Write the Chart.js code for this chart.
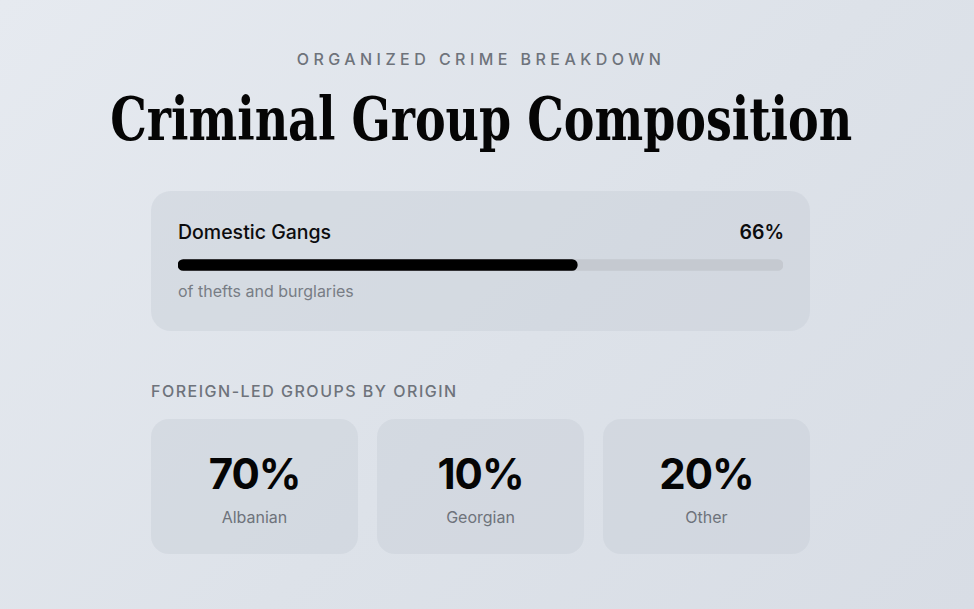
<!DOCTYPE html>
<html>
<head>
<meta charset="utf-8">
<script src="https://cdn.jsdelivr.net/npm/chart.js@4"></script>
<style>
  html, body { margin: 0; padding: 0; }
  body {
    width: 974px; height: 609px; overflow: hidden; position: relative;
    background: linear-gradient(135deg, #e6eaf0 0%, #dde2e9 55%, #d8dde5 100%);
    font-family: Inter, "Noto Sans", sans-serif;
  }
  .eyebrow {
    position: absolute; left: 0; width: 962px; top: 49px; text-align: center;
    font-size: 16px; letter-spacing: 4.45px; color: #6e737b; font-weight: 500;
  }
  .titleWrap { position: absolute; left: 0; width: 962px; top: 80px; text-align: center; }
  .title {
    display: inline-block; transform-origin: 50% 50%;
    font-family: "DejaVu Serif", "Liberation Serif", serif; font-stretch: condensed; font-weight: 700;
    font-size: 59px; line-height: 80px; color: #050505; white-space: nowrap;
  }
  .card {
    position: absolute; background: rgba(200, 206, 216, 0.45); border-radius: 20px;
  }
  #top { left: 151px; top: 191px; width: 659px; height: 140px; }
  .lbl { position: absolute; left: 178px; top: 220px; font-size: 19.5px; font-weight: 500; color: #0c0c0e; }
  .val { position: absolute; left: 683px; width: 101px; text-align: right; top: 220px; font-size: 19.5px; font-weight: 600; color: #0c0c0e; }
  .sub { position: absolute; left: 178px; top: 281px; font-size: 16px; color: #787d85; }
  #barWrap { position: absolute; left: 178px; top: 259px; width: 605px; height: 12px; }
  .section {
    position: absolute; left: 151px; top: 381px; font-size: 16px; letter-spacing: 1.5px;
    color: #6e737b; font-weight: 500;
  }
  .stat { top: 419px; width: 207px; height: 135px; border-radius: 18px; }
  .num { position: absolute; width: 207px; text-align: center; top: 448px; font-size: 42px; font-weight: 700; color: #050505; letter-spacing: -1px; }
  .name { position: absolute; width: 207px; text-align: center; top: 507px; font-size: 16px; color: #6e737b; }
</style>
</head>
<body>
<div class="eyebrow" id="eyebrow"></div>
<div class="titleWrap"><span class="title" id="title"></span></div>
<div class="card" id="top"></div>
<div class="lbl" id="lbl"></div>
<div class="val" id="val"></div>
<div class="sub" id="sub"></div>
<div id="barWrap"><canvas id="bar"></canvas></div>
<div class="section" id="section"></div>
<div id="stats"></div>
<script>
// ---- data ----
const eyebrowText = "ORGANIZED CRIME BREAKDOWN";
const titleText = "Criminal Group Composition";
const domesticLabel = "Domestic Gangs";
const domesticValue = 66;
const domesticNote = "of thefts and burglaries";
const sectionText = "FOREIGN-LED GROUPS BY ORIGIN";
const origins = ["Albanian", "Georgian", "Other"];
const originShares = [70, 10, 20];

// ---- text ----
document.getElementById('eyebrow').textContent = eyebrowText;
const t = document.getElementById('title');
t.textContent = titleText;
const w = t.getBoundingClientRect().width;
if (w > 0) t.style.transform = 'scaleX(' + (742 / w) + ')';
document.getElementById('section').textContent = sectionText;
document.getElementById('lbl').textContent = domesticLabel;
document.getElementById('val').textContent = domesticValue + '%';
document.getElementById('sub').textContent = domesticNote;

const stats = document.getElementById('stats');
origins.forEach((name, i) => {
  const left = 151 + i * 226;
  const c = document.createElement('div');
  c.className = 'card stat'; c.style.left = left + 'px';
  stats.appendChild(c);
  const num = document.createElement('div'); num.className = 'num';
  num.style.left = left + 'px'; num.textContent = originShares[i] + '%';
  const nm = document.createElement('div'); nm.className = 'name';
  nm.style.left = left + 'px'; nm.textContent = name;
  stats.appendChild(num); stats.appendChild(nm);
});

// ---- progress bar via Chart.js ----
new Chart(document.getElementById('bar'), {
  type: 'bar',
  data: {
    labels: [domesticLabel],
    datasets: [
      { data: [domesticValue], backgroundColor: '#000000', barThickness: 11, borderRadius: 6, borderSkipped: false, order: 1, grouped: false },
      { data: [100], backgroundColor: '#c5c9d0', barThickness: 11, borderRadius: 6, borderSkipped: false, order: 2, grouped: false }
    ]
  },
  options: {
    indexAxis: 'y',
    responsive: true, maintainAspectRatio: false, animation: false,
    layout: { padding: 0 },
    plugins: { legend: { display: false }, tooltip: { enabled: false } },
    scales: {
      x: { display: false, min: 0, max: 100 },
      y: { display: false }
    }
  }
});
</script>
</body>
</html>
